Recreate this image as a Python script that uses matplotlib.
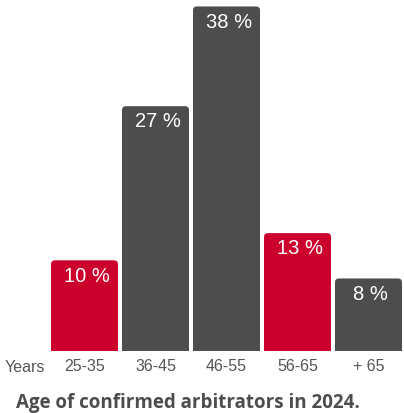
import matplotlib
matplotlib.use('Agg')
import matplotlib.pyplot as plt
from matplotlib.patches import FancyBboxPatch

# age groups and share of confirmed arbitrators (%)
age_groups = ['25-35', '36-45', '46-55', '56-65', '+ 65']
shares = [10, 27, 38, 13, 8]
highlight = [True, False, False, True, False]

RED = '#cc002c'
GREY = '#4d4d4d'
TEXT = '#555555'

W, H = 404, 413
fig = plt.figure(figsize=(W / 100, H / 100), dpi=100, facecolor='white')
ax = fig.add_axes([49 / W, 62 / H, 355 / W, 350 / H])
ax.set_xlim(-0.5, 4.5)
ax.set_ylim(0, 38.6)

colors = [RED if h else GREY for h in highlight]
bars = ax.bar(range(len(shares)), shares, width=67 / 71, color=colors)

# swap the plain rectangles for ones with rounded top corners
rx = 4 / 71
ry = 4 * 38.6 / 350
for b in bars:
    x, w, h = b.get_x(), b.get_width(), b.get_height()
    b.set_visible(False)
    p = FancyBboxPatch((x, -2 * ry), w, h + 2 * ry,
                       boxstyle=f'round,pad=0,rounding_size={rx}',
                       mutation_aspect=ry / rx,
                       facecolor=b.get_facecolor(), edgecolor='none')
    ax.add_patch(p)

for i, v in enumerate(shares):
    ax.annotate(f'{v} %', (i, v), xytext=(1.5, -4.5), textcoords='offset points',
                ha='center', va='top', color='white', fontsize=14.5,
                family='Liberation Sans')

ax.set_xticks(range(len(age_groups)))
ax.set_xticklabels(age_groups, fontsize=11.5, color=TEXT, family='Liberation Sans')
ax.tick_params(axis='x', length=0, pad=6)
ax.set_yticks([])
for s in ax.spines.values():
    s.set_visible(False)

fig.text(25 / W, 1 - 367 / H, 'Years', ha='center', va='center',
         fontsize=11.5, color=TEXT, family='Liberation Sans')
fig.text(188 / W, 1 - 403 / H, 'Age of confirmed arbitrators in 2024.',
         ha='center', va='center', fontsize=13.5, fontweight='bold',
         color='#4d4d4d', family='Open Sans')

fig.savefig('out.png', dpi=100, facecolor='white')
